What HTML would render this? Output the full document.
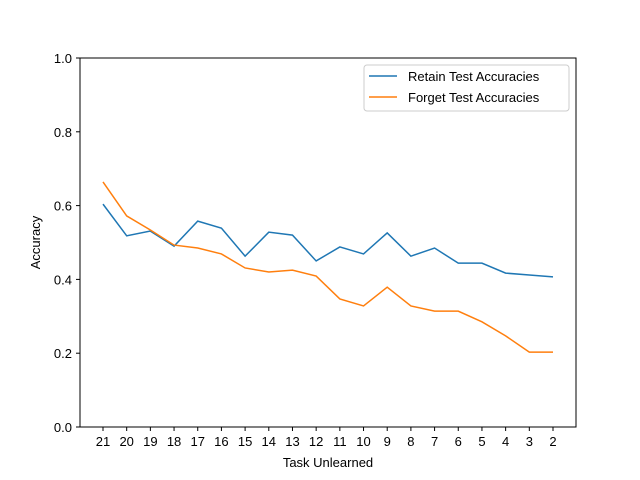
<!DOCTYPE html>
<html><head><meta charset="utf-8"><style>body{margin:0;background:#fff}svg{display:block}</style></head>
<body>
<svg id="chart" width="640" height="480" xmlns="http://www.w3.org/2000/svg" font-family="'Liberation Sans','DejaVu Sans',sans-serif">
<rect x="80" y="58" width="496" height="369" fill="none" stroke="#000" stroke-width="1"/>
<g id="xt"></g><g id="yt"></g><g id="lines"></g>
<text x="328" y="467" text-anchor="middle" font-size="13">Task Unlearned</text>
<text transform="translate(40,242.5) rotate(-90)" text-anchor="middle" font-size="13">Accuracy</text>
<g>
<rect x="364" y="65" width="205" height="46" rx="3" fill="#fff" stroke="#ccc"/>
<line x1="369" y1="76" x2="397" y2="76" stroke="#1f77b4" stroke-width="1.5"/>
<text x="408" y="81" font-size="13">Retain Test Accuracies</text>
<line x1="369" y1="97" x2="397" y2="97" stroke="#ff7f0e" stroke-width="1.5"/>
<text x="408" y="102" font-size="13">Forget Test Accuracies</text>
</g>
</svg>
<script>
const categories=["21","20","19","18","17","16","15","14","13","12","11","10","9","8","7","6","5","4","3","2"];
const retain=[0.604,0.518,0.531,0.49,0.558,0.539,0.463,0.528,0.52,0.45,0.488,0.469,0.526,0.463,0.485,0.444,0.444,0.417,0.412,0.407];
const forget=[0.664,0.572,0.534,0.493,0.485,0.469,0.431,0.42,0.425,0.409,0.347,0.328,0.379,0.328,0.314,0.314,0.285,0.247,0.203,0.203];
const yTicks=["0.0","0.2","0.4","0.6","0.8","1.0"];
const NS="http://www.w3.org/2000/svg";
const xs=i=>103+i*(553-103)/(categories.length-1);
const ys=v=>427-v*369;
function mk(t,a,p){const e=document.createElementNS(NS,t);for(const k in a)e.setAttribute(k,a[k]);p.appendChild(e);return e;}
const xt=document.getElementById('xt'),yt=document.getElementById('yt'),lg=document.getElementById('lines');
categories.forEach((c,i)=>{
 const l=mk('line',{x1:xs(i),x2:xs(i),y1:427,y2:431,stroke:'#000'},xt);
 
 
 const t=mk('text',{x:xs(i),y:446,'text-anchor':'middle','font-size':13},xt);t.textContent=c;
 
 
});
yTicks.forEach(s=>{
 const v=parseFloat(s);
 const l=mk('line',{x1:76,x2:80,y1:ys(v),y2:ys(v),stroke:'#000'},yt);
 
 
 const t=mk('text',{x:72,y:ys(v)+5,'text-anchor':'end','font-size':13},yt);t.textContent=s;
 
 
});
[[retain,'#1f77b4','retain-line'],[forget,'#ff7f0e','forget-line']].forEach(([d,c,n])=>{
 const p=mk('polyline',{points:d.map((v,i)=>xs(i)+','+ys(v)).join(' '),fill:'none',stroke:c,'stroke-width':1.5},lg);
 
 
});
</script>
</body></html>
